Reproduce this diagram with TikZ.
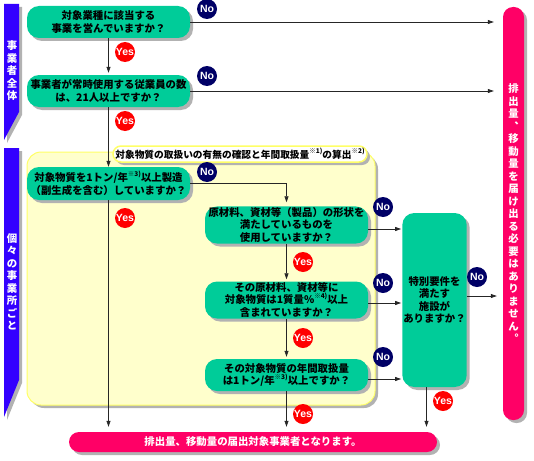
\documentclass[tikz,border=0pt]{standalone}
\usepackage{fontspec}
\setmainfont{Noto Sans CJK JP}
\newfontfamily\badgefont{Liberation Sans}
\usetikzlibrary{arrows.meta,shadows}

\definecolor{boxgreen}{RGB}{0,204,153}
\definecolor{barpink}{RGB}{255,0,102}
\definecolor{bandblue}{RGB}{51,0,255}
\definecolor{areayellow}{RGB}{255,255,204}
\definecolor{areaedge}{RGB}{255,255,102}
\definecolor{nonavy}{RGB}{0,0,102}
\definecolor{yesred}{RGB}{255,0,0}

\newcommand{\chu}[1]{\raisebox{0.9ex}{\fontsize{6.5}{6.5}\selectfont ※#1)}}
\newcommand{\qfont}{\bfseries\fontsize{10.4}{12.5}\selectfont}

\begin{document}
\begin{tikzpicture}[x=1pt,y=-1pt,
    shade/.style={drop shadow={shadow xshift=3pt,shadow yshift=-3pt,fill=black!30,opacity=1}},
    question/.style={shade,fill=boxgreen,rounded corners=12pt,minimum width=163pt,
        minimum height=32pt,align=center,inner sep=1pt,font=\qfont},
    result/.style={shade,fill=barpink,text=white,rounded corners=10pt,inner sep=0pt,
        align=center,font=\qfont},
    bandtext/.style={text=white,align=center,inner sep=0pt,font=\qfont},
    badge/.style={circle,text=white,inner sep=0pt,minimum size=20pt,
        font=\badgefont\bfseries\fontsize{10.5}{10.5}\selectfont},
    nobadge/.style={badge,fill=nonavy},
    yesbadge/.style={badge,fill=yesred},
    flow/.style={-{Triangle[length=6pt,width=4pt]},line width=0.7pt,black!85}]
  \useasboundingbox (0,0) rectangle (534,460);

  % left bands
  \fill[bandblue,shade] (4,4) -- (19,4) -- (19,112) -- (4,140) -- cycle;
  \fill[bandblue,shade] (4,148) -- (19,148) -- (19,380) -- (4,417) -- cycle;
  \node[bandtext] (whole) at (12,71) {事\\業\\者\\全\\体};
  \node[bandtext] (each) at (12,282) {個\\々\\の\\事\\業\\所\\ご\\と};

  % yellow area
  \node[shade,fill=areayellow,draw=areaedge,line width=1pt,rounded corners=14pt,
      minimum width=348pt,minimum height=253pt] (area) at (201,278.5) {};
  \node[shade,fill=white,draw=areaedge,line width=1.5pt,rounded corners=8pt,
      minimum width=254pt,minimum height=16pt,inner sep=0pt,
      font=\bfseries\fontsize{9.7}{10}\selectfont] (areatitle) at (240,154)
      {対象物質の取扱いの有無の確認と年間取扱量\chu{1}の算出\chu{2}};

  % questions
  \node[question] (q1) at (108.5,22) {対象業種に該当する\\事業を営んでいますか？};
  \node[question] (q2) at (108.5,91) {事業者が常時使用する従業員の数\\は、21人以上ですか？};
  \node[question,minimum height=33pt] (q3) at (108.5,183.5)
      {対象物質を1トン/年\chu{3}以上製造\\（副生成を含む）していますか？};
  \begin{scope}[minimum height=40pt]
    \node[question] (q4) at (286.5,225) {原材料、資材等（製品）の形状を\\満たしているものを\\使用していますか？};
    \node[question] (q5) at (286.5,300) {その原材料、資材等に\\対象物質は1質量\%\chu{4}以上\\含まれていますか？};
    \node[question] (q6) at (286.5,375) {その対象物質の年間取扱量\\は1トン/年\chu{3}以上ですか？};
  \end{scope}
  \node[question,minimum width=60pt,minimum height=174pt] (q7) at (434.5,300)
      {特別要件を\\満たす\\施設が\\ありますか？};

  % results
  \node[result,minimum width=21pt,minimum height=413pt] (out) at (513.5,213.5)
      {排\\出\\量\\︑\\移\\動\\量\\を\\届\\け\\出\\る\\必\\要\\は\\あ\\り\\ま\\せ\\ん\\︒};
  \node[result,minimum width=368pt,minimum height=20pt] (done) at (253,442)
      {排出量、移動量の届出対象事業者となります。};

  \begin{scope}[flow]
    \draw[shorten >=2pt] (q1) -- (q2);
    \draw (q2) -- (q3);
    \draw[shorten >=9pt] (q1.east) -- (q1.east -| out.west);
    \draw[shorten >=9pt] (q2.east) -- (q2.east -| out.west);
    \draw[shorten >=4pt] (q3.east) -| (q4.north);
    \draw[shorten >=2pt] (q4) -- (q5);
    \draw[shorten >=2pt] (q5) -- (q6);
    \draw[shorten >=1pt] ([yshift=-4pt]q4.east) -- ([yshift=-4pt]q4.east -| q7.west);
    \draw[shorten >=1pt] ([yshift=-3pt]q5.east) -- ([yshift=-3pt]q5.east -| q7.west);
    \draw[shorten >=1pt] ([yshift=-4pt]q6.east) -- ([yshift=-4pt]q6.east -| q7.west);
    \draw[shorten >=6pt] ([yshift=4pt]q7.east) -- ([yshift=4pt]q7.east -| out.west);
    \draw[shorten >=5pt] (q3.south) -- (q3.south |- done.north);
    \draw[shorten >=5pt] (q6.south) -- (q6.south |- done.north);
    \draw[shorten >=5pt] ([xshift=-8pt]q7.south) -- ([xshift=-8pt]q7.south |- done.north);
  \end{scope}

  % badges
  \foreach \n/\x/\y in {1/207/9,2/207/76,3/207/172,4/383/207,5/383/283,6/383/357,7/477/277}
    \node[nobadge] (no\n) at (\x,\y) {No};
  \foreach \n/\x/\y in {1/125/52,2/125/121,3/125/218,4/303/262,5/303/338,6/303/414,7/443/401}
    \node[yesbadge] (yes\n) at (\x,\y) {Yes};
\end{tikzpicture}
\end{document}
